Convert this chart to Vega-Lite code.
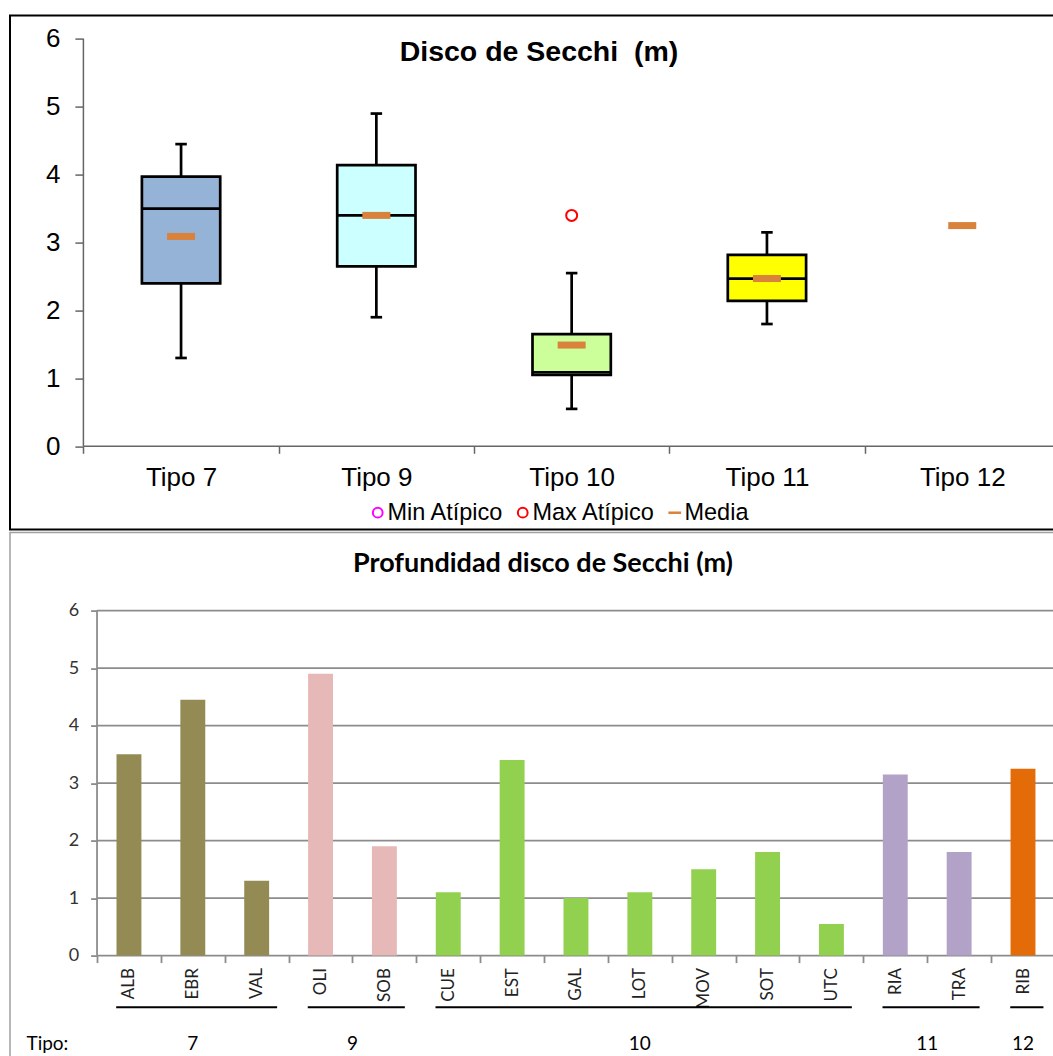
{
  "$schema": "https://vega.github.io/schema/vega-lite/v6.json",
  "padding": {"left": 0, "top": 14.6, "right": 0, "bottom": 0},
  "spacing": 3,
  "bounds": "flush",
  "background": "white",
  "resolve": {"scale": {"color": "independent", "shape": "independent", "fill": "independent"}, "legend": {"color": "independent", "shape": "independent"}},
  "datasets": {
    "cajas": [
      {"tipo": "Tipo 7", "min": 1.3, "q1": 2.4, "mediana": 3.5, "q3": 3.97, "max": 4.45, "media": 3.09},
      {"tipo": "Tipo 9", "min": 1.9, "q1": 2.65, "mediana": 3.4, "q3": 4.14, "max": 4.9, "media": 3.4},
      {"tipo": "Tipo 10", "min": 0.55, "q1": 1.05, "mediana": 1.09, "q3": 1.65, "max": 2.55, "media": 1.49, "atipico_max": 3.4},
      {"tipo": "Tipo 11", "min": 1.8, "q1": 2.14, "mediana": 2.47, "q3": 2.82, "max": 3.15, "media": 2.47},
      {"tipo": "Tipo 12", "media": 3.25}
    ],
    "barras": [
      {"estacion": "ALB", "tipo": "7", "valor": 3.5},
      {"estacion": "EBR", "tipo": "7", "valor": 4.45},
      {"estacion": "VAL", "tipo": "7", "valor": 1.3},
      {"estacion": "OLI", "tipo": "9", "valor": 4.9},
      {"estacion": "SOB", "tipo": "9", "valor": 1.9},
      {"estacion": "CUE", "tipo": "10", "valor": 1.1},
      {"estacion": "EST", "tipo": "10", "valor": 3.4},
      {"estacion": "GAL", "tipo": "10", "valor": 1.0},
      {"estacion": "LOT", "tipo": "10", "valor": 1.1},
      {"estacion": "MOV", "tipo": "10", "valor": 1.5},
      {"estacion": "SOT", "tipo": "10", "valor": 1.8},
      {"estacion": "UTC", "tipo": "10", "valor": 0.55},
      {"estacion": "RIA", "tipo": "11", "valor": 3.15},
      {"estacion": "TRA", "tipo": "11", "valor": 1.8},
      {"estacion": "RIB", "tipo": "12", "valor": 3.25}
    ],
    "grupos": [
      {"tipo": "7", "primera": "ALB", "ultima": "VAL", "n": 3, "centro": "EBR"},
      {"tipo": "9", "primera": "OLI", "ultima": "SOB", "n": 2, "centro": "SOB"},
      {"tipo": "10", "primera": "CUE", "ultima": "UTC", "n": 7, "centro": "LOT"},
      {"tipo": "11", "primera": "RIA", "ultima": "TRA", "n": 2, "centro": "TRA"},
      {"tipo": "12", "primera": "RIB", "ultima": "RIB", "n": 1, "centro": "RIB"}
    ],
    "rejilla": [{"v": 0}, {"v": 1}, {"v": 2}, {"v": 3}, {"v": 4}, {"v": 5}, {"v": 6}],
    "uno": [{"k": 1}]
  },
  "vconcat": [
    {
      "width": 1050,
      "height": 514,
      "view": {"stroke": "#000000", "strokeWidth": 2},
      "title": {"text": "Disco de Secchi\u00a0 (m)", "font": "Liberation Sans", "fontSize": 28.5, "fontWeight": "bold", "color": "#000000", "anchor": "middle", "frame": "group", "baseline": "alphabetic", "offset": -47.6, "dx": 4, "dy": 26.6},
      "layer": [
        {
          "data": {"name": "cajas"},
          "mark": {"type": "rule", "color": "#000000", "strokeWidth": 2.7},
          "encoding": {
            "x": {"field": "tipo", "type": "nominal", "sort": ["Tipo 7", "Tipo 9", "Tipo 10", "Tipo 11", "Tipo 12"],
              "scale": {"domain": ["Tipo 7", "Tipo 9", "Tipo 10", "Tipo 11", "Tipo 12"], "paddingInner": 0, "paddingOuter": 0.1882, "align": 0.9986},
              "axis": {"orient": "bottom", "offset": -83.3, "domain": false, "grid": false, "tickBand": "extent", "tickSize": 7, "tickColor": "#666666", "tickWidth": 1.5, "labelAngle": 0, "labelFont": "Liberation Sans", "labelFontSize": 26, "labelColor": "#000000", "labelPadding": 11, "title": null}},
            "y": {"field": "min", "type": "quantitative",
              "scale": {"domain": [-1.228, 6.343], "nice": false, "zero": false},
              "axis": {"orient": "left", "offset": -73.4, "values": [0, 1, 2, 3, 4, 5, 6], "format": "d", "domain": false, "grid": false, "tickSize": 8.5, "tickColor": "#666666", "tickWidth": 1.5, "labelFont": "Liberation Sans", "labelFontSize": 26, "labelColor": "#000000", "labelPadding": 15, "title": null}},
            "y2": {"field": "max"}
          }
        },
        {
          "data": {"name": "uno"},
          "mark": {"type": "rule", "color": "#666666", "strokeWidth": 1.5},
          "encoding": {
            "x": {"datum": "Tipo 7", "bandPosition": 0},
            "y": {"datum": 0},
            "y2": {"datum": 6}
          }
        },
        {
          "data": {"name": "uno"},
          "mark": {"type": "rule", "color": "#666666", "strokeWidth": 1.5},
          "encoding": {
            "x": {"datum": "Tipo 7", "bandPosition": 0},
            "x2": {"datum": "Tipo 12", "bandPosition": 1.2},
            "y": {"datum": 0}
          }
        },
        {
          "data": {"name": "cajas"},
          "mark": {"type": "bar", "stroke": "#000000", "strokeWidth": 2.7, "opacity": 1, "width": {"band": 0.401}},
          "encoding": {
            "x": {"field": "tipo", "type": "nominal"},
            "y": {"field": "q1", "type": "quantitative"},
            "y2": {"field": "q3"},
            "fill": {"field": "tipo", "type": "nominal", "scale": {"domain": ["Tipo 7", "Tipo 9", "Tipo 10", "Tipo 11"], "range": ["#95B3D7", "#CCFFFF", "#CCFF99", "#FFFF00"]}, "legend": null}
          }
        },
        {
          "data": {"name": "cajas"},
          "mark": {"type": "tick", "color": "#000000", "opacity": 1, "size": 78, "thickness": 2.7},
          "encoding": {
            "x": {"field": "tipo", "type": "nominal"},
            "y": {"field": "mediana", "type": "quantitative"}
          }
        },
        {
          "data": {"name": "cajas"},
          "mark": {"type": "tick", "color": "#000000", "opacity": 1, "size": 11.5, "thickness": 2.7},
          "encoding": {
            "x": {"field": "tipo", "type": "nominal"},
            "y": {"field": "min", "type": "quantitative"}
          }
        },
        {
          "data": {"name": "cajas"},
          "mark": {"type": "tick", "color": "#000000", "opacity": 1, "size": 11.5, "thickness": 2.7},
          "encoding": {
            "x": {"field": "tipo", "type": "nominal"},
            "y": {"field": "max", "type": "quantitative"}
          }
        },
        {
          "data": {"name": "cajas"},
          "mark": {"type": "point", "filled": false, "size": 120, "strokeWidth": 2, "opacity": 1},
          "encoding": {
            "x": {"field": "tipo", "type": "nominal"},
            "y": {"field": "atipico_max", "type": "quantitative"},
            "color": {"datum": "Max Atípico", "type": "nominal",
              "scale": {"domain": ["Min Atípico", "Max Atípico", "Media"], "range": ["#FF00FF", "#FF0000", "#D9823B"]},
              "legend": {"orient": "none", "legendX": 356, "legendY": 485, "direction": "horizontal", "title": null, "labelFont": "Liberation Sans", "labelFontSize": 23.5, "labelColor": "#000000", "symbolSize": 95, "symbolStrokeWidth": 2, "symbolFillColor": "transparent", "labelOffset": -2, "columnPadding": 7, "padding": 0,
                "encode": {"symbols": {"update": {"strokeWidth": {"signal": "datum.value === 'Media' ? 4 : 2"}, "fill": {"value": "transparent"}}}}}},
            "shape": {"datum": "Max Atípico", "type": "nominal",
              "scale": {"domain": ["Min Atípico", "Max Atípico", "Media"], "range": ["circle", "circle", "M-1.1,-0.05H1.1V0.05H-1.1Z"]},
              "legend": {"orient": "none", "legendX": 356, "legendY": 485, "direction": "horizontal", "title": null, "labelFont": "Liberation Sans", "labelFontSize": 23.5, "labelColor": "#000000", "symbolSize": 95, "symbolStrokeWidth": 2, "symbolFillColor": "transparent", "labelOffset": -2, "columnPadding": 7, "padding": 0,
                "encode": {"symbols": {"update": {"strokeWidth": {"signal": "datum.value === 'Media' ? 4 : 2"}, "fill": {"value": "transparent"}}}}}}
          }
        },
        {
          "data": {"name": "cajas"},
          "mark": {"type": "point", "filled": false, "size": 400, "strokeWidth": 6, "opacity": 1},
          "encoding": {
            "x": {"field": "tipo", "type": "nominal"},
            "y": {"field": "media", "type": "quantitative"},
            "color": {"datum": "Media", "type": "nominal"},
            "shape": {"datum": "Media", "type": "nominal"}
          }
        }
      ]
    },
    {
      "width": 1050,
      "height": 526,
      "view": {"stroke": "#A0A0A0", "strokeWidth": 1.5},
      "title": {"text": "Profundidad disco de Secchi (m)", "font": "Lato", "fontSize": 27, "fontWeight": "bold", "color": "#000000", "anchor": "middle", "frame": "group", "baseline": "alphabetic", "offset": -41.3, "dx": 8, "dy": 25},
      "layer": [
        {
          "data": {"name": "rejilla"},
          "mark": {"type": "rule", "color": "#8C8C8C", "strokeWidth": 1.8},
          "encoding": {
            "x": {"datum": "ALB", "bandPosition": 0},
            "x2": {"datum": "RIB", "bandPosition": 1.2},
            "y": {"field": "v", "type": "quantitative",
              "scale": {"domain": [-1.791, 7.357], "nice": false, "zero": false},
              "axis": {"orient": "left", "offset": -87, "values": [0, 1, 2, 3, 4, 5, 6], "format": "d", "domain": false, "grid": false, "tickSize": 6.4, "tickColor": "#8C8C8C", "tickWidth": 1.8, "labelFont": "Lato", "labelFontSize": 18, "labelColor": "#333333", "labelPadding": 12, "title": null}}
          }
        },
        {
          "data": {"name": "uno"},
          "mark": {"type": "rule", "color": "#8C8C8C", "strokeWidth": 1.8},
          "encoding": {
            "x": {"datum": "ALB", "bandPosition": 0},
            "y": {"datum": 0},
            "y2": {"datum": 6}
          }
        },
        {
          "data": {"name": "barras"},
          "mark": {"type": "bar", "width": {"band": 0.39}},
          "encoding": {
            "x": {"field": "estacion", "type": "nominal", "sort": null,
              "scale": {"domain": ["ALB", "EBR", "VAL", "OLI", "SOB", "CUE", "EST", "GAL", "LOT", "MOV", "SOT", "UTC", "RIA", "TRA", "RIB"], "paddingInner": 0, "paddingOuter": 0.721, "align": 0.945},
              "axis": {"orient": "bottom", "offset": -103, "domain": false, "grid": false, "tickBand": "extent", "tickSize": 7, "tickColor": "#8C8C8C", "tickWidth": 1.8, "labelAngle": 270, "labelFont": "Lato", "labelFontSize": 17, "labelColor": "#222222", "labelPadding": 5,
                "title": "Tipo:", "titleFont": "Lato", "titleFontSize": 19, "titleFontWeight": "normal", "titleColor": "#000000", "titleX": 16, "titleY": 88.3, "titleAlign": "left", "titleBaseline": "middle", "titleAngle": 0}},
            "y": {"field": "valor", "type": "quantitative", "axis": {"title": null}},
            "color": {"field": "tipo", "type": "nominal", "scale": {"domain": ["7", "9", "10", "11", "12"], "range": ["#948A54", "#E6B9B8", "#92D050", "#B3A2C7", "#E36C09"]}, "legend": null}
          }
        },
        {
          "data": {"name": "grupos"},
          "mark": {"type": "rule", "color": "#000000", "strokeWidth": 2},
          "encoding": {
            "x": {"field": "primera", "type": "nominal", "bandPosition": 0.3},
            "x2": {"field": "ultima", "bandPosition": 0.82},
            "y": {"datum": -0.9}
          }
        },
        {
          "data": {"name": "grupos"},
          "transform": [{"filter": "datum.n % 2 == 1"}],
          "mark": {"type": "text", "font": "Lato", "fontSize": 19, "color": "#000000", "baseline": "middle", "align": "center"},
          "encoding": {
            "x": {"field": "centro", "type": "nominal", "bandPosition": 0.5},
            "y": {"datum": -1.536},
            "text": {"field": "tipo"}
          }
        },
        {
          "data": {"name": "grupos"},
          "transform": [{"filter": "datum.n % 2 == 0"}],
          "mark": {"type": "text", "font": "Lato", "fontSize": 19, "color": "#000000", "baseline": "middle", "align": "center"},
          "encoding": {
            "x": {"field": "centro", "type": "nominal", "bandPosition": 0},
            "y": {"datum": -1.536},
            "text": {"field": "tipo"}
          }
        }
      ]
    }
  ]
}
